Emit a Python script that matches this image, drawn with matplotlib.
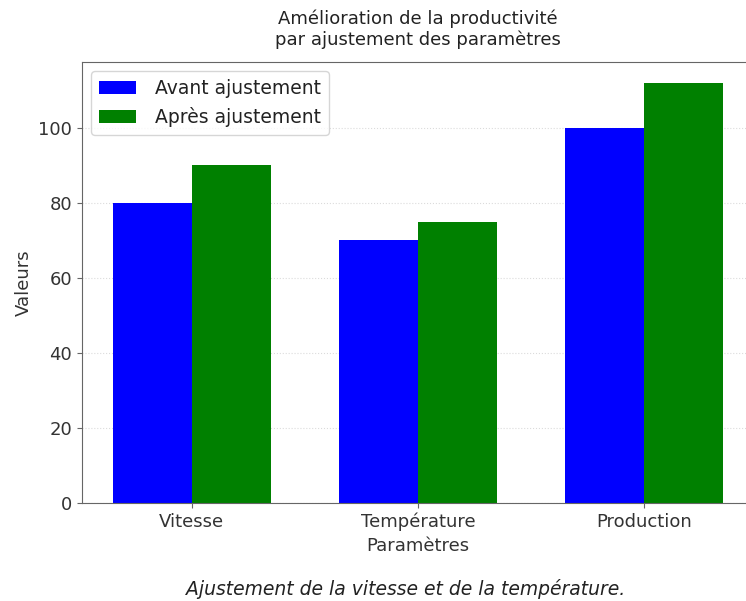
import numpy as np
import matplotlib
matplotlib.use("Agg")
import matplotlib.pyplot as plt

plt.rcParams['font.family'] = ['DejaVu Sans']

categories = ["Vitesse", "Température", "Production"]
avant = [80, 70, 100]
apres = [90, 75, 112]

x = np.arange(len(categories))
width = 0.35

fig = plt.figure(figsize=(7.46, 6.01), dpi=100)
ax = fig.add_axes([82/746, 1 - 503/601, 672/746, 441/601])

ax.bar(x - width/2, avant, width, color="blue", label="Avant ajustement")
ax.bar(x + width/2, apres, width, color="green", label="Après ajustement")

ax.set_xticks(x)
ax.set_xticklabels(categories)
ax.tick_params(colors="#666666", labelsize=13, labelcolor="#333333")
for s in ax.spines.values():
    s.set_color("#666666")
ax.set_xlabel("Paramètres", fontsize=13, color="#333333", labelpad=4)
ax.set_ylabel("Valeurs", fontsize=13, color="#333333")
ax.set_title("Amélioration de la productivité\npar ajustement des paramètres",
             fontsize=13, pad=12, color="#222222")
ax.yaxis.grid(True, linestyle=":", color="lightgrey", alpha=0.8)
ax.set_axisbelow(True)
leg = ax.legend(loc="upper left", fontsize=13.5, handletextpad=1.0)
for t in leg.get_texts():
    t.set_color("#222222")

fig.text(406/746, 1 - 589/601, "Ajustement de la vitesse et de la température.",
         ha="center", va="center", style="italic", fontsize=13.5, color="#222222")

fig.savefig("out.png", dpi=100)
